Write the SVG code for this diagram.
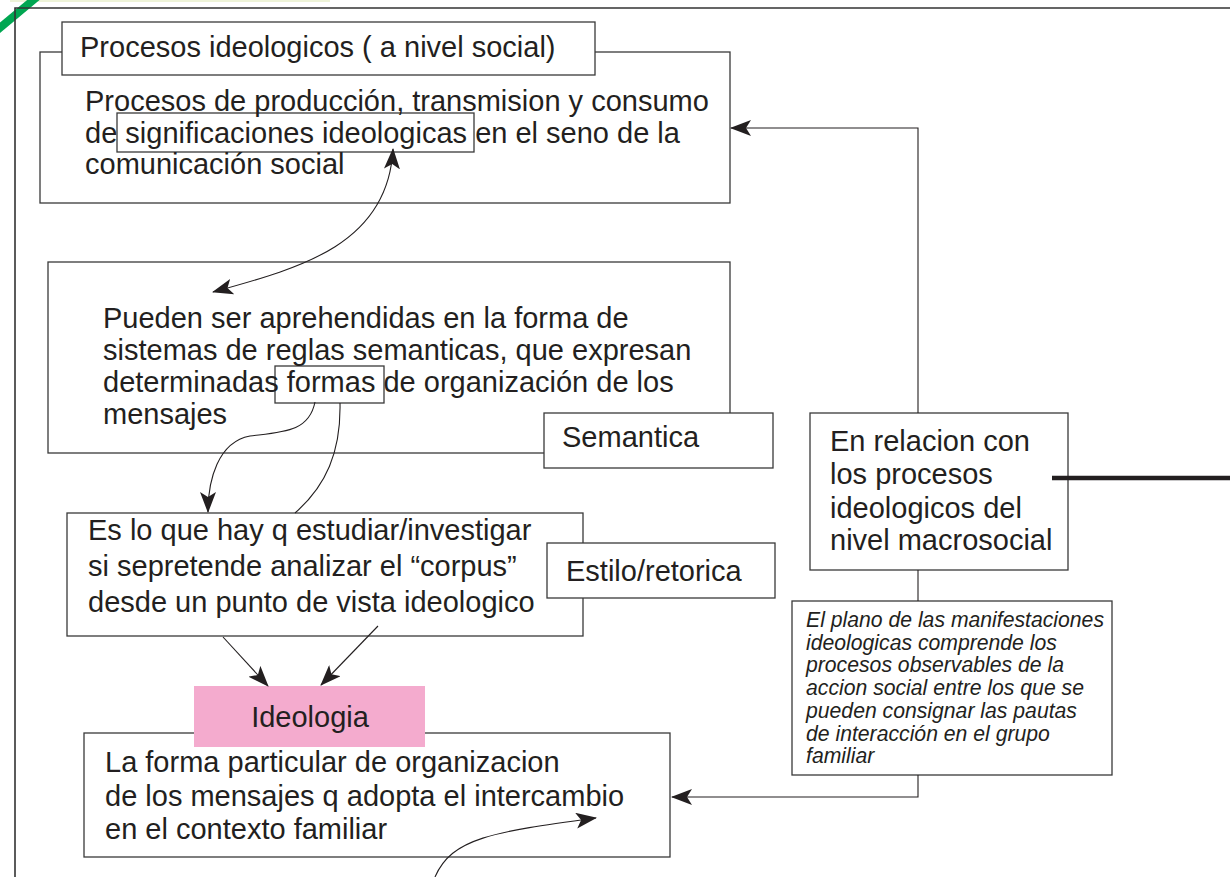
<svg xmlns="http://www.w3.org/2000/svg" width="1230" height="877" viewBox="0 0 1230 877">
<style>
.t{font-family:"Liberation Sans",Arial,sans-serif;font-size:29px;fill:#231f20}
.it{font-family:"Liberation Sans",Arial,sans-serif;font-size:21.2px;font-style:italic;fill:#231f20}
.box{fill:#fff;stroke:#3a3a3a;stroke-width:1.3}
.ln{fill:none;stroke:#231f20;stroke-width:1.1}
</style>
<defs>
<marker id="ah" viewBox="0 0 21 16" refX="20" refY="8" markerWidth="21" markerHeight="16" markerUnits="userSpaceOnUse" orient="auto-start-reverse">
<path d="M0,0 L21,8 L0,16 L5,8 Z" fill="#231f20"/>
</marker>
</defs>
<rect x="0" y="0" width="1230" height="877" fill="#fff"/>
<rect x="10" y="0" width="320" height="2" fill="#eef3d8"/>
<line x1="-4" y1="31" x2="37" y2="-3" stroke="#00a651" stroke-width="8"/>
<polyline points="15,877 15,8 1230,8" fill="none" stroke="#333" stroke-width="1.6"/>

<g id="node-procesos">
<rect class="box" x="40" y="52" width="690" height="151"/>
<rect class="box" x="117" y="113" width="357" height="39" fill="none"/>
<text class="t" x="85" y="111">Procesos de producción, transmision y consumo</text>
<text class="t" x="85" y="143">de significaciones ideologicas en el seno de la</text>
<text class="t" x="85" y="174">comunicación social</text>
</g>
<g id="node-label-social">
<rect class="box" x="62" y="22" width="533" height="53"/>
<text class="t" x="80" y="57">Procesos ideologicos ( a nivel social)</text>
</g>

<g id="node-pueden">
<rect class="box" x="48" y="262" width="682" height="191"/>
<rect class="box" x="275" y="366" width="109" height="37"/>
<text class="t" x="103" y="328">Pueden ser aprehendidas en la forma de</text>
<text class="t" x="103" y="360">sistemas de reglas semanticas, que expresan</text>
<text class="t" x="103" y="392">determinadas formas de organización de los</text>
<text class="t" x="103" y="424">mensajes</text>
</g>
<g id="node-semantica">
<rect class="box" x="544" y="413" width="229" height="55"/>
<text class="t" x="562" y="447">Semantica</text>
</g>

<g id="node-estudiar">
<rect class="box" x="67" y="513" width="516" height="123"/>
<text class="t" x="88" y="540">Es lo que hay q estudiar/investigar</text>
<text class="t" x="88" y="576">si sepretende analizar el “corpus”</text>
<text class="t" x="88" y="612">desde un punto de vista ideologico</text>
</g>
<g id="node-estilo">
<rect class="box" x="547" y="543" width="228" height="55"/>
<text class="t" x="566" y="581">Estilo/retorica</text>
</g>

<g id="node-relacion">
<rect class="box" x="810" y="413" width="258" height="157"/>
<text class="t" x="830" y="451">En relacion con</text>
<text class="t" x="830" y="484">los procesos</text>
<text class="t" x="830" y="518">ideologicos del</text>
<text class="t" x="830" y="550">nivel macrosocial</text>
</g>

<g id="node-plano">
<rect class="box" x="792" y="601" width="320" height="174"/>
<text class="it" x="806" y="627">El plano de las manifestaciones</text>
<text class="it" x="806" y="650">ideologicas comprende los</text>
<text class="it" x="806" y="672">procesos observables de la</text>
<text class="it" x="806" y="695">accion social entre los que se</text>
<text class="it" x="806" y="718">pueden consignar las pautas</text>
<text class="it" x="806" y="741">de interacción en el grupo</text>
<text class="it" x="806" y="763">familiar</text>
</g>

<g id="node-forma">
<rect class="box" x="84" y="733" width="586" height="124"/>
<text class="t" x="105" y="772">La forma particular de organizacion</text>
<text class="t" x="105" y="806">de los mensajes q adopta el intercambio</text>
<text class="t" x="105" y="839">en el contexto familiar</text>
</g>
<g id="node-ideologia">
<rect x="194" y="686" width="231" height="61" fill="#f4abce"/>
<text class="t" x="310" y="727" text-anchor="middle">Ideologia</text>
</g>

<g id="connectors">
<polyline class="ln" points="918,413 918,128 731,128" marker-end="url(#ah)"/>
<line class="ln" x1="918" y1="570" x2="918" y2="601"/>
<polyline class="ln" points="918,775 918,797 672,797" marker-end="url(#ah)"/>
<line x1="1052" y1="478" x2="1230" y2="478" stroke="#231f20" stroke-width="4.5"/>
<path class="ln" d="M213,292 C300,268 388,245 393,149" marker-start="url(#ah)" marker-end="url(#ah)"/>
<path class="ln" d="M315,402 C309,432 283,432 250,436 C218,442 208,480 208,512" marker-end="url(#ah)"/>
<path class="ln" d="M340,403 C341,452 326,486 295,513"/>
<line class="ln" x1="223" y1="637" x2="268" y2="686" marker-end="url(#ah)"/>
<line class="ln" x1="378" y1="626" x2="321" y2="685" marker-end="url(#ah)"/>
<path class="ln" d="M435,877 C452,838 492,832 596,818" marker-end="url(#ah)"/>
</g>
</svg>
